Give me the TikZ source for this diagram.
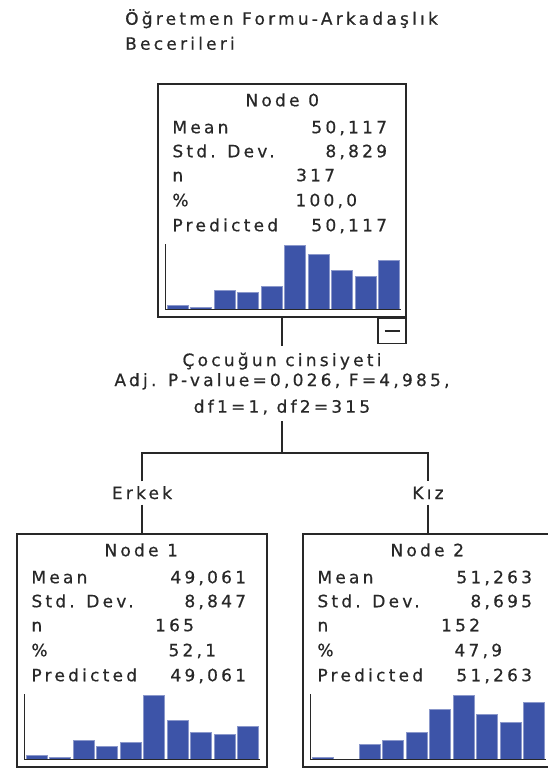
\documentclass[tikz,border=0pt]{standalone}
\usepackage{fontspec}
\setmainfont{DejaVu Sans}[LetterSpace=19, FakeBold=0.6]
\usetikzlibrary{positioning}
\definecolor{barblue}{RGB}{61,84,168}
\definecolor{inkgray}{RGB}{40,40,40}
\tikzset{%
  treebox/.style={draw, line width=1.5pt, minimum width=250pt, minimum height=233pt, inner sep=0pt},
  lbl/.style={anchor=base west, inner sep=0pt},
  val/.style={anchor=base east, inner sep=0pt},
  bar/.style={fill=barblue, draw=barblue!60!white, line width=0.5pt},
  axis/.style={line width=1.4pt},
  edge/.style={line width=1.5pt},
  branch/.style={inner sep=5.5pt, text height=12pt, text depth=0pt}
}
% rows of one tree node: #1 box, #2 title, #3 mean, #4 sd, #5 n, #6 percent
\newcommand{\statrows}[6]{%
  \begin{scope}[shift={(#1.north west)}]
    \node[anchor=base, inner sep=0pt] (#1-title) at (125,23) {#2};
    \node[lbl] (#1-meanl) at (15,50) {Mean};
    \node[val] (#1-mean)  at (230,50) {#3};
    \node[lbl] (#1-sdl)   at (15,74) {Std. Dev.};
    \node[val] (#1-sd)    at (230,74) {#4};
    \node[lbl] (#1-nl)    at (15,98) {n};
    \node[val] (#1-n)     at (178,98) {#5};
    \node[lbl] (#1-pctl)  at (15,123) {\%};
    \node[val] (#1-pct)   at (200,123) {#6};
    \node[lbl] (#1-predl) at (15,148) {Predicted};
    \node[val] (#1-pred)  at (230,148) {#3};
  \end{scope}}
% histogram inside a tree node: #1 box, #2 bar heights
\newcommand{\histo}[2]{%
  \begin{scope}[shift={(#1.north west)}]
    \foreach \h [count=\i] in {#2}
      \fill[bar] (9.5+23.5*\i-23.5,226) rectangle ++(21,-\h);
    \draw[axis] (8,161) -- (8,226) -- (244,226);
  \end{scope}}

\begin{document}
\begin{tikzpicture}[x=1pt, y=-1pt, font=\fontsize{17}{20}\selectfont, color=inkgray]
  \clip (0,0) rectangle (548,768);

  \node[anchor=north west, inner sep=0pt, align=left, font=\fontsize{17}{25}\selectfont] (target) at (125,9)
    {Öğretmen Formu-Arkadaşlık\\Becerileri};

  % tree nodes
  \node[treebox, minimum width=248pt] (n0) at (282,200.5) {};
  \node[treebox] (n1) at (142,650.5) {};
  \node[treebox] (n2) at (428,650.5) {};

  \statrows{n0}{Node 0}{50,117}{8,829}{317}{100,0}
  \statrows{n1}{Node 1}{49,061}{8,847}{165}{52,1}
  \statrows{n2}{Node 2}{51,263}{8,695}{152}{47,9}

  \histo{n0}{3.7,2,19.3,17.3,23.3,64,54.7,38.7,32.7,48.7}
  \histo{n1}{3.7,2,19.3,13.3,17.3,64,38.7,27.3,25.3,32.7}
  \histo{n2}{2,0,15.3,19.3,27.3,50.3,64,44.7,37,57.3}

  \node[draw, line width=1.5pt, anchor=north east, minimum width=28pt, minimum height=25pt, inner sep=0pt]
    (n0toggle) at (n0.south east) {\rule[-1pt]{15pt}{2pt}};

  % split
  \node[anchor=north, inner sep=6.5pt, align=center] (split) at (282,346)
    {Çocuğun cinsiyeti\\Adj. P-value=0,026, F=4,985,\\[6.6pt]df1=1, df2=315};
  \coordinate (fork) at (282,453);
  \node[branch] (erkek) at (142,493) {Erkek};
  \node[branch] (kiz) at (428,493) {Kız};

  \draw[edge] (n0.south) -- (split.north);
  \draw[edge] (split.south) -- (fork);
  \draw[edge] (erkek.north) |- (fork) -| (kiz.north);
  \draw[edge] (erkek.south) -- (n1.north);
  \draw[edge] (kiz.south) -- (n2.north);
\end{tikzpicture}
\end{document}
